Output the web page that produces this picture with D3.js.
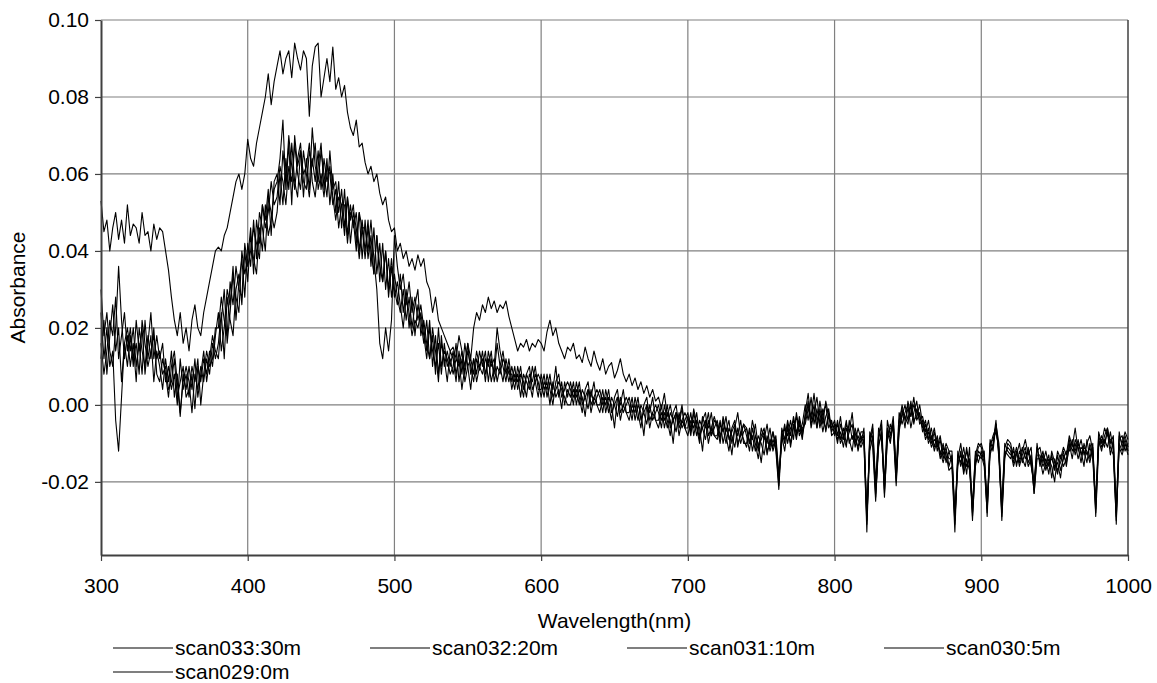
<!DOCTYPE html>
<html>
<head>
<meta charset="utf-8">
<script src="https://cdn.jsdelivr.net/npm/d3@7"></script>
<style>
    body { margin: 0; background: #fff; }
    text { font-family: "Liberation Sans", Arial, sans-serif; }
</style>
</head>
<body>
<div id="wrapper"></div>
<script>
// wavelength grid, nm (2 nm steps)
const wavelengths = [
    300,302,304,306,308,310,312,314,316,318,
    320,322,324,326,328,330,332,334,336,338,
    340,342,344,346,348,350,352,354,356,358,
    360,362,364,366,368,370,372,374,376,378,
    380,382,384,386,388,390,392,394,396,398,
    400,402,404,406,408,410,412,414,416,418,
    420,422,424,426,428,430,432,434,436,438,
    440,442,444,446,448,450,452,454,456,458,
    460,462,464,466,468,470,472,474,476,478,
    480,482,484,486,488,490,492,494,496,498,
    500,502,504,506,508,510,512,514,516,518,
    520,522,524,526,528,530,532,534,536,538,
    540,542,544,546,548,550,552,554,556,558,
    560,562,564,566,568,570,572,574,576,578,
    580,582,584,586,588,590,592,594,596,598,
    600,602,604,606,608,610,612,614,616,618,
    620,622,624,626,628,630,632,634,636,638,
    640,642,644,646,648,650,652,654,656,658,
    660,662,664,666,668,670,672,674,676,678,
    680,682,684,686,688,690,692,694,696,698,
    700,702,704,706,708,710,712,714,716,718,
    720,722,724,726,728,730,732,734,736,738,
    740,742,744,746,748,750,752,754,756,758,
    760,762,764,766,768,770,772,774,776,778,
    780,782,784,786,788,790,792,794,796,798,
    800,802,804,806,808,810,812,814,816,818,
    820,822,824,826,828,830,832,834,836,838,
    840,842,844,846,848,850,852,854,856,858,
    860,862,864,866,868,870,872,874,876,878,
    880,882,884,886,888,890,892,894,896,898,
    900,902,904,906,908,910,912,914,916,918,
    920,922,924,926,928,930,932,934,936,938,
    940,942,944,946,948,950,952,954,956,958,
    960,962,964,966,968,970,972,974,976,978,
    980,982,984,986,988,990,992,994,996,998,
    1000
]

// absorbance values in thousandths
const scan033 = [
    53,45,48,40,46,50,43,48,42,52,
    44,47,46,42,50,44,45,40,47,43,
    46,45,40,35,28,22,18,24,16,20,
    14,22,26,20,18,24,28,32,36,40,
    41,40,44,46,50,54,58,60,56,60,
    69,64,62,68,72,76,80,86,78,84,
    88,92,86,90,92,85,94,90,87,92,
    90,75,88,93,94,80,85,90,84,93,
    82,85,80,83,76,72,70,74,67,68,
    63,60,62,58,60,55,52,54,48,45,
    46,40,42,38,40,36,38,35,39,36,
    38,32,30,24,28,22,20,18,16,14,
    15,12,18,14,10,16,12,20,24,22,
    26,24,28,25,27,24,26,25,27,23,
    20,17,14,16,15,17,14,16,15,17,
    16,14,19,22,18,20,16,14,12,15,
    14,16,12,13,11,15,12,10,14,11,
    9,12,8,10,11,7,9,12,8,6,
    8,5,7,4,6,3,5,2,4,1,
    2,-1,3,-3,0,-4,-2,-5,-1,-6,
    -3,-7,-1,-5,-9,-3,-6,-2,-8,-4,
    -5,-9,-3,-7,-4,-10,-6,-2,-8,-5,
    -6,-10,-4,-8,-12,-6,-9,-5,-11,-7,
    -10,-20,-6,-9,-4,-8,-3,-7,-5,-9,
    -2,3,-4,0,-6,-1,-5,1,-3,-6,
    -4,-8,-3,-9,-5,-7,-2,-10,-6,-9,
    -8,-28,-10,-6,-20,-8,-4,-21,-6,-9,
    -5,-18,-4,-1,-6,1,-3,0,-2,-4,
    -3,-7,-4,-9,-6,-11,-8,-13,-10,-12,
    -12,-28,-14,-10,-16,-12,-15,-26,-13,-10,
    -11,-14,-26,-9,-12,-5,-10,-27,-11,-9,
    -10,-14,-11,-15,-12,-9,-13,-11,-21,-12,
    -11,-15,-12,-16,-13,-17,-12,-14,-11,-13,
    -8,-11,-6,-12,-9,-13,-10,-8,-12,-26,
    -7,-10,-6,-8,-9,-11,-27,-8,-10,-7,
    -9
]
const scan032 = [
    24,12,20,10,14,-4,-12,2,16,20,
    14,20,10,16,8,22,12,18,6,14,
    10,4,12,6,14,2,8,-2,6,10,
    6,-2,8,4,10,6,12,8,16,12,
    16,24,12,28,22,18,30,34,26,40,
    32,44,38,34,46,40,52,44,48,56,
    58,64,74,56,68,52,70,62,66,54,
    64,56,72,62,58,66,60,54,66,56,
    58,50,56,46,54,48,52,42,50,46,
    46,40,48,38,30,16,12,20,14,22,
    44,36,30,34,26,32,24,28,22,26,
    20,14,22,10,18,8,16,12,6,14,
    12,6,14,8,16,10,4,12,8,14,
    10,14,6,12,8,16,10,6,12,8,
    8,4,10,6,2,8,10,4,6,8,
    6,2,8,4,0,6,8,2,4,6,
    4,0,6,2,-2,4,6,0,2,4,
    2,-2,4,0,-4,2,4,-2,0,2,
    0,-4,2,-2,-6,0,2,-4,-2,0,
    -2,-6,0,-4,-8,-2,0,-6,-4,-2,
    -4,-8,-2,-6,-10,-4,-2,-8,-6,-3,
    -6,-10,-4,-8,-12,-6,-4,-10,-8,-5,
    -8,-12,-6,-10,-14,-8,-6,-12,-10,-7,
    -12,-22,-8,-12,-6,-10,-5,-9,-4,-8,
    -4,1,-6,-2,2,-5,-1,-7,-3,-5,
    -6,-10,-5,-8,-11,-4,-9,-7,-12,-8,
    -10,-31,-7,-9,-24,-11,-7,-23,-9,-5,
    -7,-21,-6,-3,0,-4,1,-5,-1,-3,
    -6,-4,-9,-6,-11,-8,-13,-10,-15,-12,
    -15,-31,-12,-16,-13,-18,-11,-29,-16,-12,
    -13,-16,-28,-11,-8,-6,-12,-29,-13,-11,
    -12,-16,-13,-10,-15,-12,-16,-14,-23,-14,
    -14,-18,-15,-13,-19,-14,-17,-15,-12,-16,
    -10,-14,-9,-11,-15,-10,-13,-11,-14,-28,
    -9,-12,-8,-6,-11,-13,-30,-10,-12,-9,
    -12
]
const scan031 = [
    12,22,8,18,26,14,20,6,16,10,
    18,10,22,14,20,8,16,24,12,18,
    12,16,6,10,4,8,0,12,4,8,
    2,8,-1,10,6,12,8,14,10,18,
    24,14,20,30,26,36,22,32,38,28,
    42,36,48,38,50,46,40,54,50,46,
    50,60,52,64,56,68,58,54,66,60,
    62,68,58,54,62,68,56,64,52,60,
    50,58,46,56,44,52,46,50,40,48,
    40,48,36,46,34,42,32,40,30,38,
    30,26,34,24,30,20,28,18,26,22,
    16,22,12,18,8,20,10,14,12,8,
    10,16,6,12,8,14,10,6,12,9,
    14,8,12,6,10,20,14,10,6,12,
    6,10,4,8,6,2,8,6,10,4,
    4,8,2,6,4,10,2,6,0,4,
    2,6,0,4,2,-3,4,2,6,0,
    0,4,-2,2,0,-6,2,0,4,-2,
    -2,2,-4,0,-2,-8,0,-2,2,-4,
    -4,0,-6,-2,-4,-10,-2,-4,0,-6,
    -6,-2,-8,-4,-6,-12,-4,-6,-2,-8,
    -8,-4,-10,-6,-8,-13,-6,-8,-4,-10,
    -10,-6,-12,-8,-10,-15,-8,-10,-6,-12,
    -9,-19,-10,-6,-8,-4,-9,-2,-7,-5,
    0,-4,2,-5,-1,-6,-2,0,-6,-4,
    -8,-4,-9,-6,-10,-7,-5,-11,-8,-10,
    -6,-30,-12,-8,-22,-6,-9,-20,-4,-8,
    -3,-17,-2,-5,-2,0,-6,-2,1,-5,
    -4,-8,-6,-10,-7,-12,-9,-14,-11,-16,
    -13,-30,-16,-12,-18,-14,-17,-27,-12,-15,
    -12,-15,-27,-13,-10,-4,-14,-28,-12,-13,
    -14,-11,-16,-12,-14,-16,-11,-15,-22,-10,
    -16,-13,-17,-14,-16,-20,-13,-17,-14,-12,
    -12,-9,-13,-10,-12,-16,-9,-14,-10,-29,
    -11,-8,-10,-7,-13,-9,-31,-9,-8,-12,
    -10
]
const scan030 = [
    30,18,24,14,10,20,36,22,12,18,
    10,16,6,20,14,10,18,12,20,8,
    6,12,8,2,10,14,6,-3,8,4,
    10,4,12,2,8,14,6,12,18,14,
    12,22,30,16,24,34,28,24,40,34,
    38,46,34,48,42,52,48,56,44,58,
    60,52,66,58,70,62,56,64,68,58,
    56,66,62,68,56,60,54,62,60,52,
    56,46,52,52,42,50,48,40,50,38,
    48,38,44,34,44,32,42,30,38,28,
    34,28,24,30,22,28,20,26,30,18,
    22,16,12,20,14,6,18,10,14,10,
    14,8,12,4,10,16,8,12,6,10,
    8,12,10,14,6,10,8,12,10,6,
    10,6,8,2,8,6,4,10,6,2,
    8,4,6,0,6,2,4,-1,6,2,
    6,2,4,0,4,2,-1,4,0,2,
    4,0,2,-2,2,0,-3,2,-2,0,
    2,-2,0,-4,0,-2,-5,0,-4,-2,
    0,-4,-2,-6,-2,-4,-7,-2,-6,-4,
    -2,-6,-4,-8,-4,-6,-9,-4,-8,-6,
    -4,-8,-6,-10,-6,-8,-11,-6,-10,-7,
    -6,-10,-8,-12,-8,-10,-13,-8,-12,-9,
    -11,-21,-7,-10,-5,-11,-6,-3,-8,-6,
    -5,-1,-3,3,-4,-2,-7,-3,-1,-7,
    -5,-9,-7,-11,-6,-9,-12,-6,-9,-11,
    -9,-33,-8,-11,-25,-9,-5,-24,-8,-6,
    -6,-20,-5,0,-4,-1,-3,2,-4,-2,
    -7,-5,-10,-8,-12,-9,-14,-11,-13,-17,
    -16,-33,-13,-15,-11,-16,-14,-30,-15,-13,
    -14,-12,-29,-10,-9,-7,-11,-30,-14,-10,
    -11,-15,-12,-16,-13,-11,-15,-13,-23,-13,
    -13,-16,-14,-18,-12,-15,-18,-13,-16,-14,
    -9,-12,-10,-14,-11,-12,-15,-10,-13,-27,
    -8,-11,-9,-11,-7,-12,-29,-11,-13,-10,
    -13
]
const scan029 = [
    16,8,14,22,18,28,12,18,24,14,
    20,12,16,8,22,16,10,14,18,12,
    14,8,10,4,6,12,2,6,10,2,
    4,10,6,12,0,8,14,10,12,20,
    20,28,22,18,32,26,36,30,28,42,
    36,40,46,42,38,52,46,50,58,52,
    54,62,58,52,62,58,68,60,56,66,
    60,54,64,58,66,56,64,58,62,54,
    48,54,52,44,54,42,50,46,38,46,
    38,46,40,34,44,36,32,40,28,36,
    28,32,26,20,28,24,18,22,20,24,
    18,12,20,14,10,16,8,16,10,12,
    8,12,10,14,6,10,12,8,14,10,
    12,6,14,10,12,6,10,14,8,10,
    4,8,6,10,4,8,6,2,8,6,
    2,6,4,8,2,4,6,4,2,0,
    0,4,2,6,0,2,4,-2,2,0,
    -2,2,0,4,-2,0,2,-4,0,-2,
    -4,0,-2,2,-4,-2,0,-6,-2,-4,
    -6,-2,-4,0,-6,-4,-2,-8,-4,-6,
    -8,-4,-6,-2,-8,-6,-4,-10,-6,-8,
    -9,-5,-7,-3,-9,-7,-5,-11,-7,-9,
    -11,-7,-9,-5,-11,-9,-7,-13,-9,-11,
    -8,-18,-9,-5,-10,-6,-4,-8,-3,-7,
    -3,0,-5,-2,-6,1,-4,-6,-2,-8,
    -7,-5,-10,-8,-4,-10,-8,-9,-11,-7,
    -7,-29,-9,-5,-23,-10,-8,-22,-7,-10,
    -4,-19,-7,-2,-3,-5,0,-4,-3,0,
    -5,-9,-7,-11,-9,-10,-12,-15,-12,-14,
    -14,-29,-15,-13,-17,-11,-16,-28,-14,-11,
    -10,-13,-25,-12,-11,-5,-13,-26,-10,-12,
    -13,-12,-15,-14,-11,-14,-12,-16,-20,-11,
    -15,-12,-16,-15,-14,-16,-15,-19,-13,-15,
    -11,-10,-12,-9,-13,-11,-12,-15,-11,-25,
    -10,-9,-11,-6,-10,-8,-28,-7,-11,-8,
    -11
]

const seriesNames = ["scan033:30m", "scan032:20m", "scan031:10m", "scan030:5m", "scan029:0m"]
const seriesValues = [scan033, scan032, scan031, scan030, scan029]

const xTicks = [300, 400, 500, 600, 700, 800, 900, 1000]
const yTicks = [-0.02, 0.00, 0.02, 0.04, 0.06, 0.08, 0.10]

function drawChart() {
    const dimensions = {
        width: 1157,
        height: 683,
        margin: { top: 20, right: 29, bottom: 128, left: 101 },
    }
    dimensions.boundedWidth = dimensions.width - dimensions.margin.left - dimensions.margin.right
    dimensions.boundedHeight = dimensions.height - dimensions.margin.top - dimensions.margin.bottom

    const wrapper = d3.select("#wrapper")
        .append("svg")
        .attr("width", dimensions.width)
        .attr("height", dimensions.height)
        .style("display", "block")

    const bounds = wrapper.append("g")
        .attr("transform", `translate(${dimensions.margin.left},${dimensions.margin.top})`)

    const xScale = d3.scaleLinear()
        .domain([300, 1000])
        .range([0, dimensions.boundedWidth])

    const yScale = d3.scaleLinear()
        .domain([-0.039, 0.10])
        .range([dimensions.boundedHeight, 0])

    // gridlines
    bounds.append("g")
        .selectAll("line")
        .data(yTicks)
        .join("line")
        .attr("x1", 0)
        .attr("x2", dimensions.boundedWidth)
        .attr("y1", d => yScale(d))
        .attr("y2", d => yScale(d))
        .attr("stroke", "#808080")
        .attr("stroke-width", 1.2)

    bounds.append("g")
        .selectAll("line")
        .data(xTicks.slice(1, -1))
        .join("line")
        .attr("x1", d => xScale(d))
        .attr("x2", d => xScale(d))
        .attr("y1", 0)
        .attr("y2", dimensions.boundedHeight)
        .attr("stroke", "#808080")
        .attr("stroke-width", 1.2)

    // right border
    bounds.append("line")
        .attr("x1", dimensions.boundedWidth)
        .attr("x2", dimensions.boundedWidth)
        .attr("y1", 0)
        .attr("y2", dimensions.boundedHeight)
        .attr("stroke", "#404040")
        .attr("stroke-width", 1.5)

    // spectra
    const lineGenerator = d3.line()
        .x((d, i) => xScale(wavelengths[i]))
        .y(d => yScale(d / 1000))

    bounds.append("g")
        .selectAll("path")
        .data(seriesValues)
        .join("path")
        .attr("d", d => lineGenerator(d))
        .attr("fill", "none")
        .attr("stroke", "#000")
        .attr("stroke-width", 1.1)
        .attr("stroke-linejoin", "round")

    // axes
    const xAxis = bounds.append("g")
        .attr("transform", `translate(0,${dimensions.boundedHeight})`)
        .call(d3.axisBottom(xScale).tickValues(xTicks).tickSize(6).tickSizeOuter(0).tickPadding(17)
            .tickFormat(d3.format("d")))
    xAxis.select(".domain").attr("stroke", "#404040").attr("stroke-width", 2)
    xAxis.selectAll(".tick line").attr("stroke", "#404040").attr("stroke-width", 1.2)
    xAxis.selectAll(".tick text")
        .attr("fill", "#000")
        .style("font-size", "21px")
        .style("font-family", "'Liberation Sans', Arial, sans-serif")

    const yAxis = bounds.append("g")
        .call(d3.axisLeft(yScale).tickValues(yTicks).tickSize(6).tickSizeOuter(0).tickPadding(6)
            .tickFormat(d => d.toFixed(2)))
    yAxis.select(".domain").attr("stroke", "#404040").attr("stroke-width", 2)
    yAxis.selectAll(".tick line").attr("stroke", "#404040").attr("stroke-width", 1.2)
    yAxis.selectAll(".tick text")
        .attr("fill", "#000")
        .style("font-size", "21px")
        .style("font-family", "'Liberation Sans', Arial, sans-serif")

    // axis labels
    wrapper.append("text")
        .attr("x", dimensions.margin.left + dimensions.boundedWidth / 2)
        .attr("y", 628)
        .attr("text-anchor", "middle")
        .style("font-size", "21px")
        .text("Wavelength(nm)")

    wrapper.append("text")
        .attr("transform", `translate(25,${dimensions.margin.top + dimensions.boundedHeight / 2}) rotate(-90)`)
        .attr("text-anchor", "middle")
        .style("font-size", "21px")
        .text("Absorbance")

    // legend
    const legend = wrapper.append("g")
        .selectAll("g")
        .data(seriesNames)
        .join("g")
        .attr("transform", (d, i) => `translate(${113 + (i % 4) * 257},${648 + Math.floor(i / 4) * 24})`)

    legend.append("line")
        .attr("x1", 0)
        .attr("x2", 60)
        .attr("stroke", "#000")
        .attr("stroke-width", 1.1)

    legend.append("text")
        .attr("x", 62)
        .attr("y", 7)
        .style("font-size", "21px")
        .text(d => d)
}

drawChart()
</script>
</body>
</html>
